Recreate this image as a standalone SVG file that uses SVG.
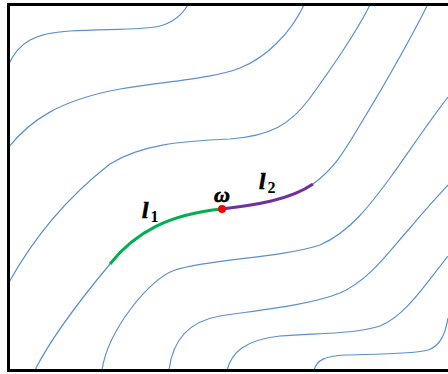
<svg xmlns="http://www.w3.org/2000/svg" width="448" height="374" viewBox="0 0 448 374">
<style>
.c{fill:none;stroke:#5b8fd0;stroke-width:1.2}
.lbl{font-family:"Liberation Serif","Times New Roman",serif;font-weight:bold;font-style:italic;fill:#000;stroke:#000;stroke-width:0.7}
.sub{font-family:"Liberation Serif","Times New Roman",serif;font-weight:bold;fill:#000}
</style>
<rect width="448" height="374" fill="#fff"/>
<g id="contours">
<path class="c" d="M8,66 C18,42 35,33 70,31 C110,29 145,30 160,26 C175,22 183,14 189,3"/>
<path class="c" d="M8,148 C30,120 60,100 120,89 C170,81 215,78 240,68 C265,58 290,35 305,3"/>
<path class="c" d="M8,284 C35,235 70,195 110,164 C140,145 180,141 230,139 C270,136 290,125 310,98 C330,70 355,35 371,3"/>
<path class="c" d="M35,370 C50,340 80,300 110,264"/>
<path class="c" d="M313,184 C335,168 345,150 360,125 C380,92 410,40 428,4"/>
<path class="c" d="M102,370 C108,330 150,278 175,270 C210,259 280,258 320,245 C350,232 370,205 390,178 C410,150 430,120 448,97"/>
<path class="c" d="M169,370 C172,345 185,322 220,316 C260,310 310,305 340,293 C370,280 390,250 410,228 C425,210 438,196 448,185"/>
<path class="c" d="M227,370 C232,352 245,340 280,336 C320,333 355,334 380,326 C405,316 425,285 448,256"/>
<path class="c" d="M314,370 C317,360 325,356 345,355 C380,354 415,354 428,350 C440,346 445,335 448,318"/>
</g>
<g id="l1">
<path d="M110,264 C135,232 170,214 222,209" fill="none" stroke="#00b050" stroke-width="3"/>
<text class="lbl" x="142" y="218" font-size="23">l</text>
<text class="sub" x="150.5" y="222" font-size="16">1</text>
</g>
<g id="l2">
<path d="M222,209 C255,205 290,200 313,184" fill="none" stroke="#7030a0" stroke-width="3"/>
<text class="lbl" x="259" y="189" font-size="23">l</text>
<text class="sub" x="267.5" y="193" font-size="16">2</text>
</g>
<g id="omega">
<circle cx="222" cy="209" r="4" fill="#ff0000"/>
<text class="lbl" x="222" y="202" font-size="22" text-anchor="middle">ω</text>
</g>
<path d="M448,4.5 H8.5 V370.5 H448" fill="none" stroke="#000" stroke-width="3"/>
</svg>
